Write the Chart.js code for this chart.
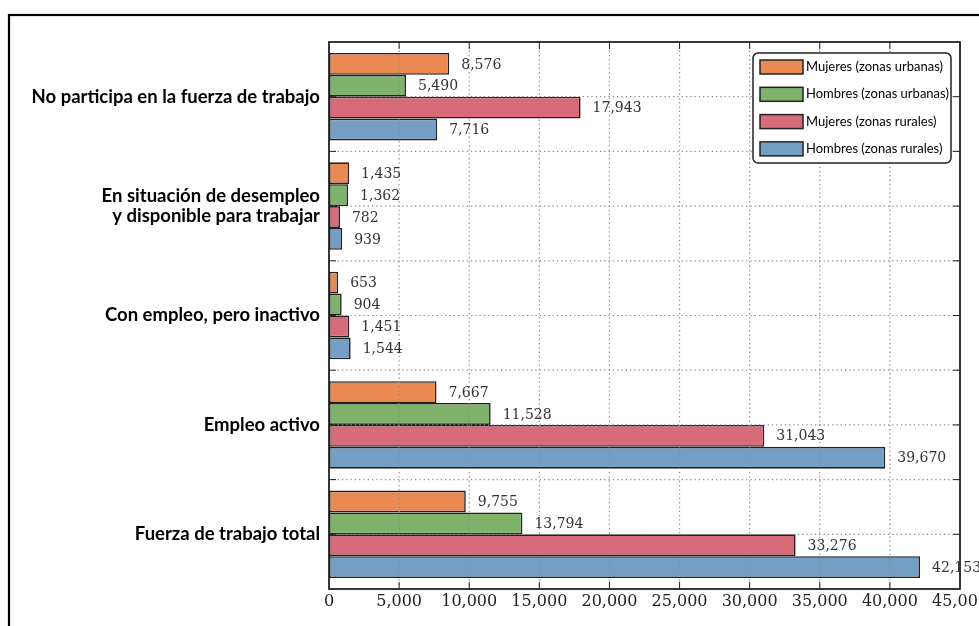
<!DOCTYPE html>
<html>
<head>
<meta charset="utf-8">
<script src="https://cdn.jsdelivr.net/npm/chart.js@4.4.1/dist/chart.umd.min.js"></script>
<style>
  html, body { margin: 0; padding: 0; background: #fff; overflow: hidden; }
  #wrap { position: relative; width: 979px; height: 626px; }
</style>
</head>
<body>
<div id="wrap"><canvas id="chart" width="979" height="626"></canvas></div>
<script>
// categories (top to bottom)
const categories = [
  'No participa en la fuerza de trabajo',
  ['En situación de desempleo', 'y disponible para trabajar'],
  'Con empleo, pero inactivo',
  'Empleo activo',
  'Fuerza de trabajo total'
];

const seriesNames = [
  'Mujeres (zonas urbanas)',
  'Hombres (zonas urbanas)',
  'Mujeres (zonas rurales)',
  'Hombres (zonas rurales)'
];

const mujeresUrbanas = [8576, 1435, 653, 7667, 9755];
const hombresUrbanas = [5490, 1362, 904, 11528, 13794];
const mujeresRurales = [17943, 782, 1451, 31043, 33276];
const hombresRurales = [7716, 939, 1544, 39670, 42153];

const xTicks = [0, 5000, 10000, 15000, 20000, 25000, 30000, 35000, 40000, 45000];

const colors = ['#ea8a52', '#7fb26b', '#d86b79', '#749ec3'];
const fmt = v => v.toLocaleString('en-US');

// grid over the bars, inward ticks and the frame
const framePlugin = {
  id: 'frame',
  beforeDraw(chart) {
    const c = chart.ctx;
    c.save();
    c.strokeStyle = '#000';
    c.lineWidth = 2.2;
    c.strokeRect(9, 15, 2000, 2000);
    c.restore();
  },
  afterDatasetsDraw(chart) {
    const c = chart.ctx, a = chart.chartArea;
    const xs = chart.scales.x, ys = chart.scales.y;
    const xPix = xTicks.slice(1, -1).map(v => xs.getPixelForValue(v));
    const yPix = [];
    categories.forEach((cat, i) => {
      const p = ys.getPixelForValue(i);
      yPix.push(p);
      if (i > 0) yPix.push((p + ys.getPixelForValue(i - 1)) / 2);
    });
    c.save();
    c.strokeStyle = '#8a8a8a';
    c.lineWidth = 1.2;
    c.setLineDash([1.3, 3]);
    xPix.forEach(x => { c.beginPath(); c.moveTo(x, a.top); c.lineTo(x, a.bottom); c.stroke(); });
    yPix.forEach(y => { c.beginPath(); c.moveTo(a.left, y); c.lineTo(a.right, y); c.stroke(); });
    c.setLineDash([]);
    c.strokeStyle = '#222';
    c.lineWidth = 1;
    xPix.forEach(x => {
      c.beginPath(); c.moveTo(x, a.bottom); c.lineTo(x, a.bottom - 7); c.stroke();
      c.beginPath(); c.moveTo(x, a.top); c.lineTo(x, a.top + 7); c.stroke();
    });
    yPix.forEach(y => {
      c.beginPath(); c.moveTo(a.left, y); c.lineTo(a.left + 7, y); c.stroke();
      c.beginPath(); c.moveTo(a.right, y); c.lineTo(a.right - 7, y); c.stroke();
    });
    c.lineWidth = 1.8;
    c.strokeStyle = '#222';
    c.strokeRect(a.left, a.top, a.right - a.left, a.bottom - a.top);

    // value labels
    c.font = '14px "DejaVu Serif"';
    c.fillStyle = '#333';
    c.textAlign = 'left';
    c.textBaseline = 'middle';
    chart.data.datasets.forEach((ds, di) => {
      chart.getDatasetMeta(di).data.forEach((bar, i) => {
        c.fillText(fmt(ds.data[i]), bar.x + 12, bar.y + 1);
      });
    });
    c.restore();
  },
  afterDraw(chart) {
    // legend box inside the plot, top right
    const c = chart.ctx;
    const lx = 753, ly = 53, lw = 198, lh = 110;
    c.save();
    c.fillStyle = '#fff';
    c.strokeStyle = '#222';
    c.lineWidth = 1.5;
    c.beginPath();
    c.roundRect(lx, ly, lw, lh, 5);
    c.fill();
    c.stroke();
    c.font = '13px Lato';
    c.textBaseline = 'middle';
    chart.data.datasets.forEach((ds, i) => {
      const cy = ly + 14 + i * 27.3;
      c.fillStyle = ds.backgroundColor;
      c.fillRect(lx + 7, cy - 7, 43, 14);
      c.lineWidth = 1.5;
      c.strokeRect(lx + 7, cy - 7, 43, 14);
      c.fillStyle = '#000';
      c.fillText(ds.label, lx + 53, cy);
    });
    c.restore();
  }
};

const allSeries = [mujeresUrbanas, hombresUrbanas, mujeresRurales, hombresRurales];

new Chart(document.getElementById('chart'), {
  type: 'bar',
  data: {
    labels: categories,
    datasets: allSeries.map((vals, i) => ({
      label: seriesNames[i],
      data: vals,
      backgroundColor: colors[i],
      borderColor: '#222',
      borderWidth: 1.6,
      borderSkipped: false,
      categoryPercentage: 0.8,
      barPercentage: 1.0
    }))
  },
  options: {
    indexAxis: 'y',
    responsive: false,
    animation: false,
    layout: { padding: { top: 42, right: 19, bottom: 0, left: 0 } },
    plugins: { legend: { display: false }, tooltip: { enabled: false } },
    scales: {
      x: {
        min: 0, max: 45000,
        afterBuildTicks: s => { s.ticks = xTicks.map(v => ({ value: v })); },
        grid: { display: false, drawTicks: false },
        border: { display: false },
        ticks: {
          padding: 3,
          color: '#222',
          font: { family: 'DejaVu Serif', size: 16 },
          callback: v => fmt(v),
          maxRotation: 0,
          autoSkip: false
        },
        afterFit: s => { s.height = 37; s.paddingLeft = 0; s.paddingRight = 0; }
      },
      y: {
        grid: { display: false, drawTicks: false },
        border: { display: false },
        ticks: {
          padding: 9,
          color: '#000',
          font: { family: 'Lato', size: 18.5, weight: 'bold', lineHeight: 1.1 }
        },
        afterFit: s => { s.width = 329; s.paddingTop = 0; s.paddingBottom = 0; }
      }
    }
  },
  plugins: [framePlugin]
});
</script>
</body>
</html>
